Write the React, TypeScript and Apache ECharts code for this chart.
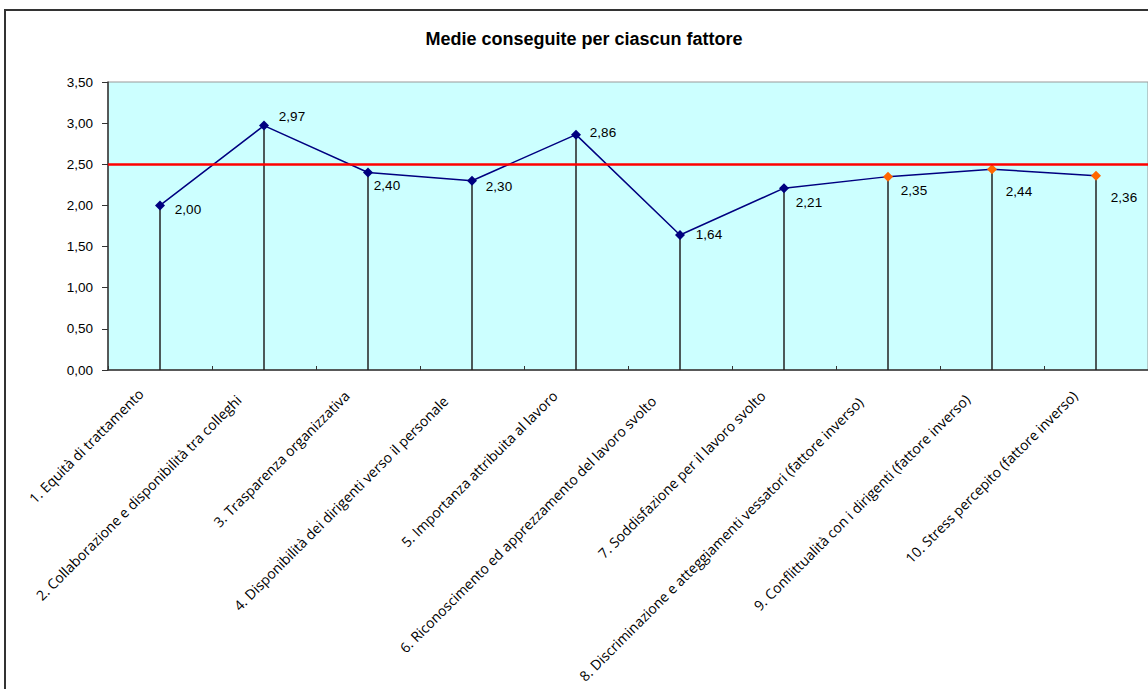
import React, { useEffect, useRef } from "react";
import * as echarts from "echarts";

// ---- data ----
const chartTitle = "Medie conseguite per ciascun fattore";
const categories = [
  "1. Equità di trattamento",
  "2. Collaborazione e disponibilità tra colleghi",
  "3. Trasparenza organizzativa",
  "4. Disponibilità dei dirigenti verso il personale",
  "5. Importanza attribuita al lavoro",
  "6. Riconoscimento ed apprezzamento del lavoro svolto",
  "7. Soddisfazione per il lavoro svolto",
  "8. Discriminazione e atteggiamenti vessatori (fattore inverso)",
  "9. Conflittualità con i dirigenti (fattore inverso)",
  "10. Stress percepito (fattore inverso)",
];
const values = [2.0, 2.97, 2.4, 2.3, 2.86, 1.64, 2.21, 2.35, 2.44, 2.36];
const inverseFactor = [false, false, false, false, false, false, false, true, true, true];
const threshold = 2.5;
const yMin = 0;
const yMax = 3.5;
const yStep = 0.5;

// ---- style tweaks (label placement) ----
const dataLabelOffsets: [number, number][] = [
  [28, 4], [28, -9], [19, 13], [27, 6], [27, -2],
  [29, -1], [25, 14], [26, 14], [27, 22], [28, 22],
];
// [padRight, padBottom(+)/padTop(-)] for rotated category labels
const catLabelPads: [number, number][] = [
  [27, -14], [36, 4], [30, -8.5], [37.5, 7], [30, -7],
  [37.5, 7], [30, -8.5], [39, 10], [35, 1.4], [30, -8.5],
];

const NAVY = "#000080";
const ORANGE = "#FF6600";
const fmt = (v: number) => v.toFixed(2).replace(".", ",");

export default function App() {
  const ref = useRef<HTMLDivElement>(null);
  useEffect(() => {
    if (!ref.current) return;
    const chart = echarts.init(ref.current, undefined, { renderer: "svg" });
    const xData = categories.map((c, i) => {
      const [pr, pb] = catLabelPads[i];
      const padding = pb >= 0 ? [0, pr, pb, 0] : [-pb, pr, 0, 0];
      return { value: c, textStyle: { padding } };
    });
    const lineData = values.map((v, i) => ({
      value: v,
      itemStyle: { color: inverseFactor[i] ? ORANGE : NAVY },
      label: { offset: dataLabelOffsets[i] },
    }));
    chart.setOption({
      animation: false,
      backgroundColor: "#ffffff",
      title: {
        text: chartTitle,
        left: 584,
        top: 30,
        textAlign: "center",
        padding: 0,
        textStyle: {
          fontFamily: "Liberation Sans, Arial, sans-serif",
          fontWeight: "bold",
          fontSize: 18,
          color: "#000",
        },
      },
      graphic: [
        {
          type: "rect",
          shape: { x: 5, y: 10, width: 1200, height: 720 },
          style: { fill: "none", stroke: "#333", lineWidth: 2 },
          silent: true,
        },
      ],
      grid: {
        left: 108,
        right: 0,
        top: 82,
        bottom: 319,
        show: true,
        backgroundColor: "#CCFFFF",
        borderColor: "#999999",
        borderWidth: 1,
      },
      xAxis: {
        type: "category",
        data: xData,
        boundaryGap: true,
        axisLine: { show: true, lineStyle: { color: "#333", width: 1.5 } },
        axisTick: { show: true, inside: true, length: 4, lineStyle: { color: "#333", width: 1 } },
        axisLabel: {
          interval: 0,
          rotate: 45,
          margin: 2,
          fontFamily: "Open Sans, sans-serif",
          fontSize: 14,
          color: "#000",
        },
        splitLine: { show: false },
      },
      yAxis: {
        type: "value",
        min: yMin,
        max: yMax,
        interval: yStep,
        axisLine: { show: true, lineStyle: { color: "#333", width: 1.5 } },
        axisTick: { show: true, inside: false, length: 6, lineStyle: { color: "#333", width: 1 } },
        axisLabel: {
          margin: 15,
          formatter: (v: number) => fmt(v),
          fontFamily: "Liberation Sans, Arial, sans-serif",
          fontSize: 13.5,
          color: "#000",
        },
        splitLine: { show: false },
      },
      series: [
        {
          type: "bar",
          data: values,
          barWidth: 1.5,
          itemStyle: { color: "#222" },
          silent: true,
          z: 1,
        },
        {
          type: "line",
          data: lineData,
          symbol: "diamond",
          symbolSize: 10,
          lineStyle: { color: NAVY, width: 1.5 },
          z: 3,
          label: {
            show: true,
            position: "inside",
            formatter: (p: any) => fmt(p.value),
            fontFamily: "Liberation Sans, Arial, sans-serif",
            fontSize: 13.5,
            color: "#000",
          },
          markLine: {
            silent: true,
            symbol: "none",
            label: { show: false },
            lineStyle: { color: "#FF0000", width: 2.5, type: "solid" },
            data: [{ yAxis: threshold }],
          },
        },
      ],
    });
    return () => chart.dispose();
  }, []);
  return (
    <div
      ref={ref}
      style={{ position: "absolute", left: 0, top: 0, width: 1148, height: 689 }}
    />
  );
}
